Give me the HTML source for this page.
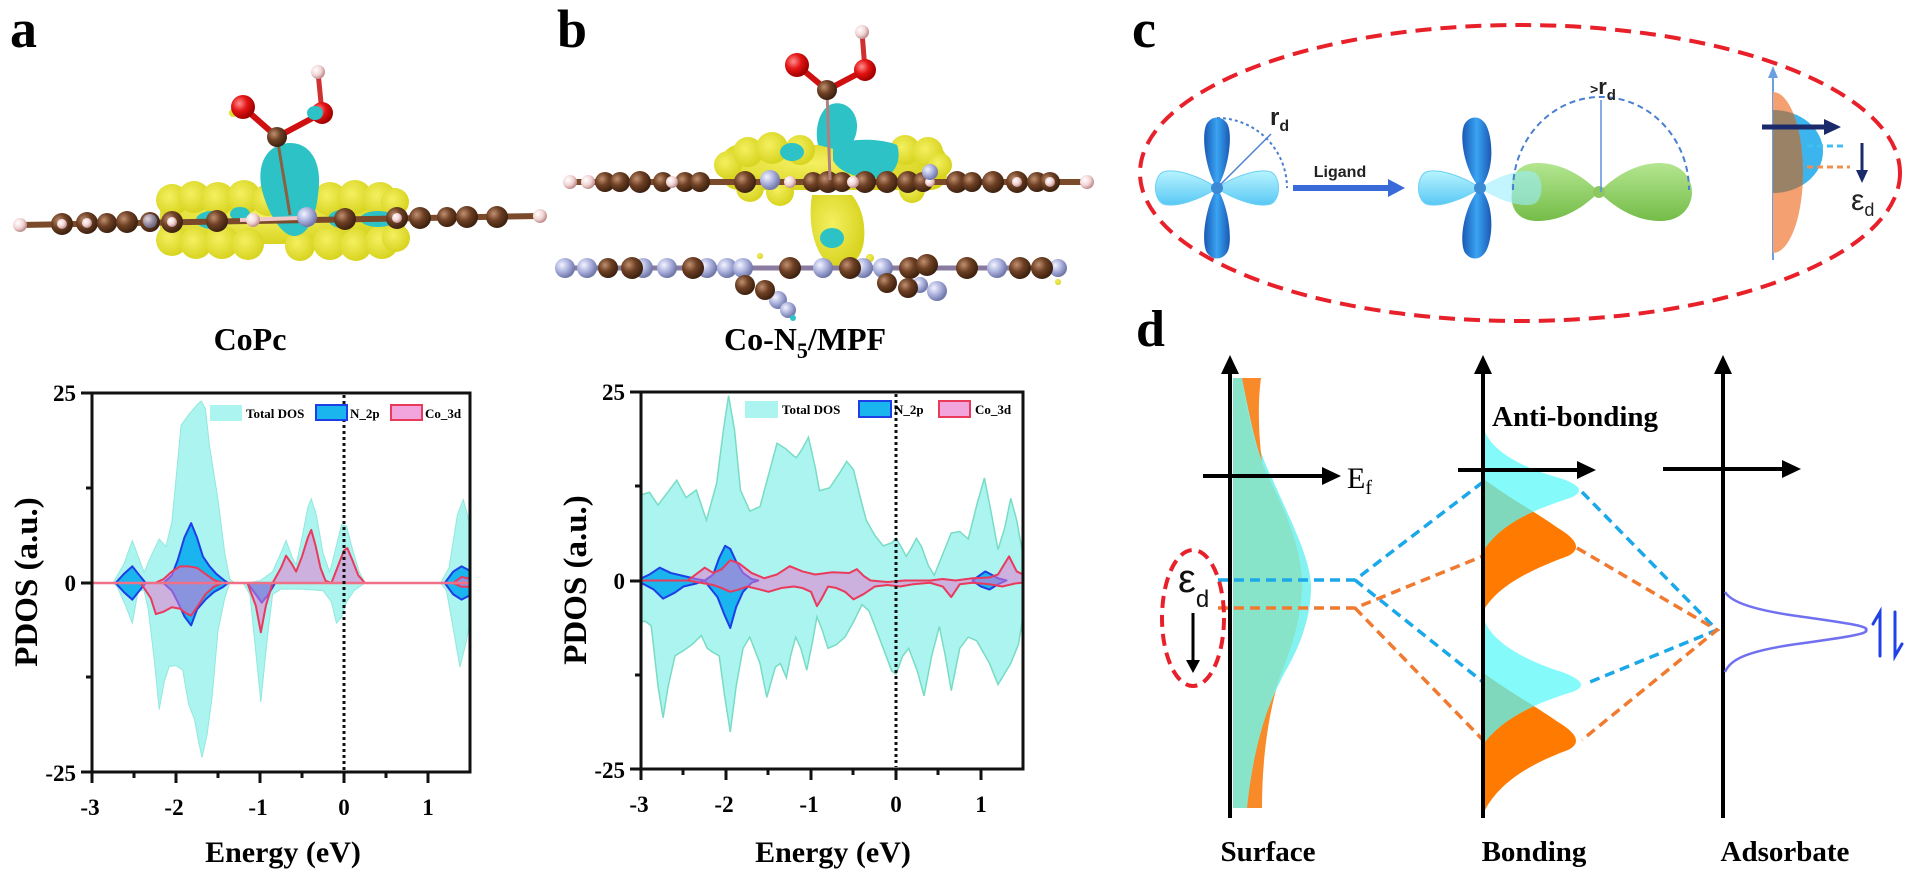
<!DOCTYPE html>
<html><head><meta charset="utf-8"><style>
html,body{margin:0;padding:0;background:#fff;}
svg{display:block;}
.ser{font-family:"Liberation Serif",serif;font-weight:bold;}
.san{font-family:"Liberation Sans",sans-serif;}
</style></head><body>
<svg width="1920" height="877" viewBox="0 0 1920 877" xmlns="http://www.w3.org/2000/svg">
<defs>
<radialGradient id="gC" cx="35%" cy="35%" r="65%"><stop offset="0" stop-color="#c09070"/><stop offset="0.5" stop-color="#6e4024"/><stop offset="1" stop-color="#3e2210"/></radialGradient>
<radialGradient id="gH" cx="35%" cy="35%" r="65%"><stop offset="0" stop-color="#ffffff"/><stop offset="0.6" stop-color="#f2d4d4"/><stop offset="1" stop-color="#c09090"/></radialGradient>
<radialGradient id="gN" cx="35%" cy="35%" r="65%"><stop offset="0" stop-color="#f4f4ff"/><stop offset="0.55" stop-color="#aab0dc"/><stop offset="1" stop-color="#7078a8"/></radialGradient>
<radialGradient id="gO" cx="35%" cy="35%" r="65%"><stop offset="0" stop-color="#ff9090"/><stop offset="0.5" stop-color="#e41414"/><stop offset="1" stop-color="#a00000"/></radialGradient>
<radialGradient id="gY" cx="40%" cy="40%" r="60%"><stop offset="0" stop-color="#f4f060"/><stop offset="1" stop-color="#d8d420"/></radialGradient>
<linearGradient id="gDB" x1="0" y1="0" x2="1" y2="0"><stop offset="0" stop-color="#1a58b4"/><stop offset="0.5" stop-color="#3aa4f2"/><stop offset="1" stop-color="#1a58b4"/></linearGradient>
<linearGradient id="gCy" x1="0" y1="0" x2="0" y2="1"><stop offset="0" stop-color="#b8f4ff"/><stop offset="1" stop-color="#58c8f4"/></linearGradient>
<linearGradient id="gGr" x1="0" y1="0" x2="0" y2="1"><stop offset="0" stop-color="#b4e690"/><stop offset="1" stop-color="#74bc48"/></linearGradient>
<clipPath id="clipA"><rect x="92" y="393" width="378" height="379"/></clipPath>
<clipPath id="clipB"><rect x="641" y="392" width="382" height="377"/></clipPath>
<clipPath id="clipOr"><path d="M1773,92 A30,80.5 0 0 1 1773,253 Z"/></clipPath>
<clipPath id="clipOAB"><path d="M1485,480 C1505,495 1535,512 1558,528 Q1588,546 1568,556 C1530,570 1500,585 1485,608 Z"/></clipPath>
<clipPath id="clipOB"><path d="M1485,674 C1505,689 1535,706 1558,722 Q1588,740 1568,750 C1530,764 1500,782 1485,810 Z"/></clipPath>
</defs>

<!-- Panel labels -->
<text class="ser" x="10" y="47" font-size="54">a</text>
<text class="ser" x="557" y="47" font-size="54">b</text>
<text class="ser" x="1132" y="47" font-size="54">c</text>
<text class="ser" x="1136" y="346" font-size="52">d</text>

<!-- ===== Molecule a ===== -->
<g>
  <g fill="url(#gY)">
    <rect x="160" y="196" width="245" height="48" rx="18"/>
    <circle cx="172" cy="200" r="16"/><circle cx="194" cy="197" r="16"/><circle cx="218" cy="199" r="17"/><circle cx="244" cy="197" r="17"/>
    <circle cx="268" cy="200" r="16"/><circle cx="330" cy="199" r="17"/><circle cx="355" cy="197" r="17"/><circle cx="380" cy="199" r="17"/><circle cx="395" cy="202" r="14"/>
    <circle cx="172" cy="240" r="16"/><circle cx="196" cy="243" r="16"/><circle cx="222" cy="242" r="17"/><circle cx="248" cy="244" r="16"/>
    <circle cx="300" cy="246" r="15"/><circle cx="330" cy="243" r="17"/><circle cx="356" cy="245" r="16"/><circle cx="382" cy="242" r="17"/><circle cx="396" cy="238" r="14"/>
  </g>
  <g fill="#2cc2c6">
    <path d="M262,190 C256,162 268,144 290,143 C312,143 323,165 318,195 C315,222 306,236 294,236 C282,236 268,214 262,190 Z"/>
    <ellipse cx="212" cy="220" rx="16" ry="9"/><ellipse cx="240" cy="214" rx="10" ry="7"/>
    <ellipse cx="342" cy="219" rx="14" ry="9"/><ellipse cx="378" cy="219" rx="18" ry="8"/>
  </g>
  <line x1="20" y1="225" x2="540" y2="216" stroke="#7a4a2a" stroke-width="6"/>
  <line x1="240" y1="220" x2="300" y2="218" stroke="#f0c8c8" stroke-width="4"/>
  <g fill="url(#gC)">
    <circle cx="62" cy="224" r="11"/><circle cx="87" cy="223" r="11"/><circle cx="107" cy="223" r="10"/><circle cx="127" cy="222" r="11"/>
    <circle cx="150" cy="222" r="10"/><circle cx="172" cy="222" r="11"/><circle cx="217" cy="221" r="11"/><circle cx="345" cy="219" r="11"/>
    <circle cx="397" cy="218" r="11"/><circle cx="420" cy="218" r="11"/><circle cx="447" cy="217" r="10"/><circle cx="467" cy="217" r="11"/><circle cx="497" cy="217" r="11"/>
  </g>
  <g fill="url(#gH)">
    <circle cx="20" cy="225" r="7"/><circle cx="62" cy="224" r="5"/><circle cx="87" cy="223" r="5"/><circle cx="172" cy="222" r="5"/>
    <circle cx="253" cy="220" r="7"/><circle cx="397" cy="218" r="5"/><circle cx="540" cy="216" r="7"/>
  </g>
  <circle cx="307" cy="217" r="10" fill="url(#gN)"/>
  <circle cx="150" cy="221" r="7" fill="url(#gN)" opacity="0.7"/>
  <!-- CO2H -->
  <line x1="277" y1="137" x2="290" y2="215" stroke="#8a6040" stroke-width="3"/>
  <line x1="277" y1="137" x2="243" y2="107" stroke="#d01010" stroke-width="6"/>
  <line x1="277" y1="137" x2="322" y2="113" stroke="#d01010" stroke-width="6"/>
  <line x1="322" y1="113" x2="318" y2="72" stroke="#d03030" stroke-width="5"/>
  <circle cx="233" cy="113" r="4" fill="#e0e030"/>
  <circle cx="243" cy="107" r="12" fill="url(#gO)"/>
  <circle cx="322" cy="113" r="11" fill="url(#gO)"/>
  <ellipse cx="315" cy="113" rx="8" ry="7" fill="#2cc2c6"/>
  <circle cx="277" cy="137" r="10" fill="url(#gC)"/>
  <circle cx="318" cy="72" r="7" fill="url(#gH)"/>
</g>
<text class="ser" x="250" y="350" font-size="32" text-anchor="middle">CoPc</text>

<!-- ===== Molecule b ===== -->
<g>
  <g fill="url(#gY)">
    <rect x="722" y="145" width="225" height="45" rx="16"/>
    <circle cx="728" cy="165" r="14"/><circle cx="748" cy="152" r="15"/><circle cx="772" cy="148" r="16"/><circle cx="800" cy="150" r="15"/>
    <circle cx="905" cy="150" r="15"/><circle cx="928" cy="152" r="15"/><circle cx="940" cy="165" r="12"/>
    <circle cx="750" cy="188" r="14"/><circle cx="780" cy="192" r="14"/><circle cx="912" cy="190" r="13"/>
    <path d="M812,195 C808,220 812,250 830,266 C845,272 862,262 864,240 C866,220 860,205 852,195 Z"/>
    <circle cx="870" cy="258" r="4"/><circle cx="1058" cy="282" r="3"/><circle cx="760" cy="256" r="3"/>
  </g>
  <g fill="#2cc2c6">
    <path d="M818,145 C814,128 820,108 832,104 C846,100 858,112 857,128 C856,140 850,150 838,150 Z"/>
    <path d="M833,145 C850,138 880,138 897,145 C902,160 895,176 880,178 C860,180 838,172 833,160 Z"/>
    <ellipse cx="792" cy="152" rx="12" ry="9"/>
    <ellipse cx="832" cy="238" rx="12" ry="10"/>
  </g>
  <!-- upper chain -->
  <line x1="567" y1="182" x2="1087" y2="182" stroke="#7a4a2a" stroke-width="6"/>
  <g fill="url(#gC)">
    <circle cx="605" cy="182" r="10"/><circle cx="620" cy="182" r="10"/><circle cx="640" cy="182" r="11"/><circle cx="663" cy="182" r="10"/>
    <circle cx="685" cy="182" r="10"/><circle cx="700" cy="182" r="10"/><circle cx="745" cy="182" r="11"/><circle cx="813" cy="182" r="10"/>
    <circle cx="828" cy="182" r="11"/><circle cx="842" cy="182" r="10"/><circle cx="865" cy="182" r="11"/><circle cx="887" cy="182" r="11"/>
    <circle cx="908" cy="182" r="11"/><circle cx="923" cy="182" r="10"/><circle cx="957" cy="182" r="11"/><circle cx="972" cy="182" r="10"/>
    <circle cx="993" cy="182" r="11"/><circle cx="1017" cy="182" r="11"/><circle cx="1037" cy="182" r="10"/><circle cx="1050" cy="182" r="10"/>
  </g>
  <g fill="url(#gH)">
    <circle cx="570" cy="182" r="7"/><circle cx="588" cy="182" r="7"/><circle cx="672" cy="182" r="6"/><circle cx="790" cy="182" r="6"/>
    <circle cx="853" cy="182" r="6"/><circle cx="930" cy="182" r="5"/><circle cx="1017" cy="182" r="5"/><circle cx="1050" cy="182" r="5"/><circle cx="1087" cy="182" r="7"/>
  </g>
  <circle cx="770" cy="180" r="10" fill="url(#gN)"/><circle cx="930" cy="172" r="8" fill="url(#gN)"/>
  <!-- lower chain -->
  <line x1="560" y1="268" x2="1060" y2="268" stroke="#8a7aa0" stroke-width="5"/>
  <g fill="url(#gN)">
    <circle cx="565" cy="268" r="10"/><circle cx="587" cy="268" r="10"/><circle cx="643" cy="268" r="10"/><circle cx="667" cy="268" r="10"/>
    <circle cx="707" cy="268" r="10"/><circle cx="727" cy="268" r="10"/><circle cx="743" cy="268" r="10"/><circle cx="823" cy="268" r="10"/>
    <circle cx="863" cy="268" r="10"/><circle cx="883" cy="268" r="10"/><circle cx="997" cy="268" r="10"/><circle cx="1058" cy="268" r="9"/>
    <circle cx="778" cy="300" r="9"/><circle cx="788" cy="310" r="8"/><circle cx="937" cy="291" r="10"/><circle cx="920" cy="285" r="8"/>
  </g>
  <g fill="url(#gC)">
    <circle cx="608" cy="268" r="10"/><circle cx="632" cy="268" r="11"/><circle cx="693" cy="268" r="11"/><circle cx="790" cy="268" r="11"/>
    <circle cx="850" cy="268" r="11"/><circle cx="910" cy="268" r="11"/><circle cx="927" cy="265" r="11"/><circle cx="967" cy="268" r="11"/>
    <circle cx="1020" cy="268" r="11"/><circle cx="1042" cy="268" r="11"/>
    <circle cx="745" cy="285" r="10"/><circle cx="765" cy="290" r="10"/><circle cx="887" cy="283" r="10"/><circle cx="908" cy="288" r="10"/>
  </g>
  <circle cx="793" cy="318" r="3" fill="#2cc2c6"/>
  <!-- CO2H -->
  <line x1="827" y1="90" x2="797" y2="65" stroke="#d01010" stroke-width="6"/>
  <line x1="827" y1="90" x2="865" y2="70" stroke="#d01010" stroke-width="6"/>
  <line x1="865" y1="70" x2="862" y2="32" stroke="#d03030" stroke-width="5"/>
  <line x1="827" y1="90" x2="830" y2="180" stroke="#b08080" stroke-width="3"/>
  <circle cx="797" cy="65" r="12" fill="url(#gO)"/>
  <circle cx="865" cy="70" r="11" fill="url(#gO)"/>
  <circle cx="827" cy="90" r="10" fill="url(#gC)"/>
  <circle cx="862" cy="32" r="7" fill="url(#gH)"/>
</g>
<text class="ser" x="805" y="350" font-size="32" text-anchor="middle">Co-N<tspan font-size="22" dy="8">5</tspan><tspan dy="-8">/MPF</tspan></text>

<!-- ===== Plot a ===== -->
<g clip-path="url(#clipA)">
 <g transform="translate(344,583) scale(84,-7.58)">
  <path vector-effect="non-scaling-stroke" fill="#abf4f0" stroke="#92e8dc" stroke-width="1" d="M-3,0 L-2.75,0 -2.62,2.5 -2.52,5.6 -2.45,3.5 -2.38,1.4 -2.3,3.5 -2.2,5.8 -2.12,4.8 -2.05,8 -1.98,16 -1.94,20.8 -1.85,22.2 -1.75,23.5 -1.7,24 -1.65,23 -1.6,18 -1.5,11 -1.42,4 -1.36,0.5 -1.3,0 -1.15,0 -1,0.3 -0.85,1.5 -0.75,4 -0.69,5.6 -0.62,3.5 -0.57,2.4 -0.5,6 -0.43,10 -0.39,11.1 -0.33,9 -0.25,4 -0.17,1.4 -0.1,4.5 -0.03,7.7 0.03,7.5 0.1,4.5 0.18,1.5 0.25,0 1.15,0 1.25,2 1.35,9 1.42,11 1.47,9 1.52,6 L1.52,-4 1.45,-8 1.38,-11.1 1.3,-6 1.22,-1 1.15,0 0.25,0 0.12,-1 0.03,-2.5 -0.03,-4.5 -0.09,-5.3 -0.15,-2.5 -0.25,-1 -0.5,-0.8 -0.75,-0.8 -0.85,-1.5 -0.92,-8 -0.99,-15.7 -1.06,-8 -1.12,-1.5 -1.2,0 -1.36,0 -1.42,-2 -1.5,-6.3 -1.57,-15 -1.63,-20 -1.69,-23 -1.73,-21 -1.78,-18 -1.85,-16 -1.92,-11.5 -2,-10.9 -2.08,-11 -2.14,-13 -2.2,-16.7 -2.26,-10 -2.33,-3.5 -2.38,-1 -2.45,-1 -2.52,-5.3 -2.6,-3 -2.7,-0.5 -2.75,0 Z"/>
  <g fill="#1ab4ee" stroke="#1e3ee6" stroke-width="2" stroke-linejoin="round">
   <path vector-effect="non-scaling-stroke" d="M-2.72,0 L-2.62,1.2 -2.52,2.2 -2.42,0.8 -2.36,0 -2.42,-0.8 -2.52,-2.2 -2.62,-1.2 Z"/>
   <path vector-effect="non-scaling-stroke" d="M-2.15,0 L-2.05,1 -1.98,3 -1.9,6 -1.82,7.9 -1.75,6 -1.68,3.5 -1.6,2.2 -1.52,1.2 -1.42,0.3 -1.38,0 -1.45,-0.6 -1.55,-1.2 -1.65,-2.2 -1.75,-3.5 -1.82,-5.6 -1.9,-4.4 -1.98,-2.5 -2.05,-1 Z"/>
   <path vector-effect="non-scaling-stroke" d="M-1.15,0 L-1.05,-1.5 -0.98,-2.6 -0.9,-1.5 -0.82,0 Z"/>
   <path vector-effect="non-scaling-stroke" d="M1.2,0 L1.3,1.5 1.4,2.2 1.52,1.5 L1.52,-1.5 1.4,-2.2 1.3,-1.5 Z"/>
  </g>
  <g fill="#e878d0" fill-opacity="0.55" stroke="#ea3a5c" stroke-width="2" stroke-linejoin="round">
   <path vector-effect="non-scaling-stroke" d="M-2.42,0 L-2.3,-2 -2.24,-4.1 -2.15,-3.8 -2.05,-3.2 -1.95,-3.4 -1.88,-4 -1.82,-4.3 -1.75,-3.2 -1.65,-1.5 -1.55,-0.5 -1.45,0 -1.55,0.4 -1.65,1.2 -1.75,2 -1.85,2.2 -1.95,2.2 -2.05,1.5 -2.15,0.5 -2.25,0 Z"/>
   <path vector-effect="non-scaling-stroke" d="M-1.15,0 L-1.05,-3 -0.99,-6.5 -0.93,-3 -0.85,0 Z"/>
   <path vector-effect="non-scaling-stroke" d="M-0.85,0 L-0.75,2 -0.69,3.6 -0.62,2.5 -0.57,1.5 -0.5,3.5 -0.43,6 -0.39,7 -0.34,5 -0.28,2 -0.22,0.3 -0.15,0 -0.08,2 0,4.3 0.04,4.6 0.1,3 0.17,1 0.25,0 Z"/>
   <path vector-effect="non-scaling-stroke" d="M1.3,0 L1.4,0.8 1.52,0.5 L1.52,-0.5 1.4,-0.5 Z"/>
  </g>
 </g>
 <line x1="92" y1="583" x2="470" y2="583" stroke="#f07088" stroke-width="2.5"/>
</g>
<line x1="344" y1="395" x2="344" y2="770" stroke="#111" stroke-width="3" stroke-dasharray="3,3"/>
<!-- legend a -->
<rect x="210" y="405" width="32" height="16" fill="#abf4f0"/>
<text class="ser" x="246" y="418" font-size="13">Total DOS</text>
<rect x="316" y="405" width="31" height="15" fill="#1ab4ee" stroke="#1e3ee6" stroke-width="2"/>
<text class="ser" x="350" y="418" font-size="13">N_2p</text>
<rect x="391" y="405" width="31" height="15" fill="#f2a4dc" stroke="#ea3a5c" stroke-width="2"/>
<text class="ser" x="425" y="418" font-size="13">Co_3d</text>
<!-- axes a -->
<rect x="92" y="393" width="378" height="379" fill="none" stroke="#111" stroke-width="3"/>
<g stroke="#111" stroke-width="3">
 <line x1="92" y1="772" x2="92" y2="783"/><line x1="176" y1="772" x2="176" y2="783"/><line x1="260" y1="772" x2="260" y2="783"/><line x1="344" y1="772" x2="344" y2="783"/><line x1="428" y1="772" x2="428" y2="783"/>
 <line x1="134" y1="772" x2="134" y2="778"/><line x1="218" y1="772" x2="218" y2="778"/><line x1="302" y1="772" x2="302" y2="778"/><line x1="386" y1="772" x2="386" y2="778"/>
 <line x1="81" y1="393" x2="92" y2="393"/><line x1="81" y1="583" x2="92" y2="583"/><line x1="81" y1="772" x2="92" y2="772"/>
 <line x1="86" y1="488" x2="92" y2="488"/><line x1="86" y1="677" x2="92" y2="677"/>
</g>
<g class="ser" font-size="23" text-anchor="middle">
 <text x="90" y="815">-3</text><text x="174" y="815">-2</text><text x="258" y="815">-1</text><text x="344" y="815">0</text><text x="428" y="815">1</text>
</g>
<g class="ser" font-size="23" text-anchor="end">
 <text x="76" y="401">25</text><text x="76" y="591">0</text><text x="76" y="781">-25</text>
</g>
<text class="ser" font-size="33" text-anchor="middle" transform="translate(37,582) rotate(-90)">PDOS (a.u.)</text>
<text class="ser" x="283" y="862" font-size="30" text-anchor="middle">Energy (eV)</text>

<!-- ===== Plot b ===== -->
<g clip-path="url(#clipB)">
 <g transform="translate(896,580.5) scale(85,-7.54)">
  <path vector-effect="non-scaling-stroke" fill="#abf4f0" stroke="#78dcc4" stroke-width="1.5" d="M-3.05,11.2 L-2.9,11.7 -2.8,10 -2.7,11.5 -2.58,13.3 -2.47,11 -2.35,12 -2.23,8 -2.11,12.9 -2.03,20 -1.97,24.5 -1.9,20 -1.83,12 -1.72,9.2 -1.6,9.8 -1.5,14 -1.4,18.2 -1.3,17.5 -1.2,16.5 -1.17,16.3 -1.1,17.5 -1.03,19 -0.95,15 -0.9,11.9 -0.78,12.3 -0.65,14.5 -0.58,15.8 -0.5,14.7 -0.42,11 -0.35,8 -0.25,6 -0.15,4.6 -0.05,5 0,5.6 0.06,4.5 0.12,3.2 0.18,4.3 0.24,5.6 0.3,4.5 0.38,2 0.45,0.7 0.55,3.5 0.65,6.3 0.75,6.5 0.85,5.5 0.95,10 1.04,13.6 1.12,9 1.2,4.1 1.28,7 1.35,10.9 1.42,8 1.49,3.6 1.55,3 L1.55,-1 1.44,-8.5 1.35,-11 1.2,-13.8 1.1,-11 0.95,-8 0.85,-7.5 0.75,-9 0.65,-14.6 0.58,-10 0.51,-6.1 0.42,-10 0.33,-15.3 0.25,-12 0.15,-9 0.08,-10 0,-12.4 -0.05,-12 -0.15,-9 -0.25,-6 -0.32,-4 -0.4,-3.2 -0.5,-5.5 -0.6,-7.5 -0.7,-8.5 -0.8,-9 -0.87,-6.5 -0.93,-4.8 -0.98,-8 -1.05,-11.9 -1.12,-9 -1.18,-7.5 -1.24,-10 -1.29,-12.9 -1.36,-11 -1.42,-11.5 -1.52,-15.5 -1.6,-11 -1.72,-7.5 -1.8,-9 -1.88,-14 -1.95,-20.1 -2.02,-15 -2.08,-10 -2.16,-9.5 -2.22,-9 -2.29,-7.3 -2.4,-8.5 -2.5,-9.3 -2.6,-10 -2.68,-14 -2.74,-18.2 -2.8,-14 -2.88,-6 -2.95,-5.4 -3.05,-5.6 Z"/>
  <g fill="#1ab4ee" stroke="#1e3ee6" stroke-width="2" stroke-linejoin="round">
   <path vector-effect="non-scaling-stroke" d="M-3.05,0 L-2.9,0.8 -2.78,1.7 -2.65,1 -2.5,0.6 -2.35,0.2 -2.25,0 -2.35,-0.4 -2.5,-0.8 -2.6,-1.6 -2.74,-2.4 -2.85,-1.2 Z"/>
   <path vector-effect="non-scaling-stroke" d="M-2.25,0 L-2.15,0.8 -2.08,3 -2.01,4.6 -1.95,4.2 -1.88,2.5 -1.8,1 -1.7,0.2 -1.62,0 -1.7,-0.3 -1.8,-1.5 -1.88,-3.5 -1.95,-6.3 -2.02,-4.5 -2.1,-2.2 -2.2,-0.8 Z"/>
   <path vector-effect="non-scaling-stroke" d="M0.9,0 L1,0.8 1.05,1.2 1.12,0.8 1.2,0.3 1.3,0 1.2,-0.5 1.1,-1.2 1,-0.8 Z"/>
  </g>
  <path vector-effect="non-scaling-stroke" fill="#e878d0" fill-opacity="0.55" stroke="#ea3a5c" stroke-width="2" stroke-linejoin="round" d="M-3.05,0 L-2.45,0 -2.25,1.7 -2.15,1 -2.05,1.5 -1.95,2.7 -1.85,2.3 -1.7,1 -1.55,0.3 -1.4,0.8 -1.25,1.9 -1.1,1.2 -0.95,0.8 -0.75,1.1 -0.55,1 -0.46,1.5 -0.38,0.6 -0.3,0 -0.1,-0.2 0.1,0 0.4,0 0.55,0.2 0.7,0 0.9,0.3 1.1,0.4 1.2,0.8 1.33,3.2 1.42,1.2 1.55,0.5 L1.55,-0.2 1.4,-0.4 1.25,-0.8 1.1,-0.5 0.9,-0.3 0.75,-0.5 0.65,-2.2 0.55,-0.8 0.4,-0.3 0.2,-0.5 0.05,-0.8 -0.1,-0.6 -0.25,-0.8 -0.38,-1.8 -0.5,-2.5 -0.6,-1.5 -0.7,-1 -0.8,-0.8 -0.88,-2.5 -0.93,-3.4 -1,-1.5 -1.1,-1 -1.2,-0.8 -1.35,-1 -1.5,-1.5 -1.6,-1.2 -1.75,-0.8 -1.85,-1.2 -1.95,-1.5 -2.05,-1 -2.15,-0.6 -2.3,-0.3 -2.45,0 Z"/>
 </g>
</g>
<line x1="896" y1="394" x2="896" y2="767" stroke="#111" stroke-width="3" stroke-dasharray="3,3"/>
<rect x="745" y="401" width="33" height="17" fill="#abf4f0"/>
<text class="ser" x="782" y="414" font-size="13">Total DOS</text>
<rect x="859" y="401" width="32" height="16" fill="#1ab4ee" stroke="#1e3ee6" stroke-width="2"/>
<text class="ser" x="894" y="414" font-size="13">N_2p</text>
<rect x="939" y="401" width="31" height="16" fill="#f2a4dc" stroke="#ea3a5c" stroke-width="2"/>
<text class="ser" x="975" y="414" font-size="13">Co_3d</text>
<rect x="641" y="392" width="382" height="377" fill="none" stroke="#111" stroke-width="3"/>
<g stroke="#111" stroke-width="3">
 <line x1="641" y1="769" x2="641" y2="780"/><line x1="726" y1="769" x2="726" y2="780"/><line x1="811" y1="769" x2="811" y2="780"/><line x1="896" y1="769" x2="896" y2="780"/><line x1="981" y1="769" x2="981" y2="780"/>
 <line x1="683" y1="769" x2="683" y2="775"/><line x1="768" y1="769" x2="768" y2="775"/><line x1="853" y1="769" x2="853" y2="775"/><line x1="938" y1="769" x2="938" y2="775"/>
 <line x1="630" y1="392" x2="641" y2="392"/><line x1="630" y1="581" x2="641" y2="581"/><line x1="630" y1="769" x2="641" y2="769"/>
 <line x1="635" y1="486" x2="641" y2="486"/><line x1="635" y1="675" x2="641" y2="675"/>
</g>
<g class="ser" font-size="23" text-anchor="middle">
 <text x="639" y="812">-3</text><text x="724" y="812">-2</text><text x="809" y="812">-1</text><text x="896" y="812">0</text><text x="981" y="812">1</text>
</g>
<g class="ser" font-size="23" text-anchor="end">
 <text x="625" y="400">25</text><text x="625" y="589">0</text><text x="625" y="778">-25</text>
</g>
<text class="ser" font-size="33" text-anchor="middle" transform="translate(586,580) rotate(-90)">PDOS (a.u.)</text>
<text class="ser" x="833" y="862" font-size="30" text-anchor="middle">Energy (eV)</text>

<!-- ===== Panel c ===== -->
<ellipse cx="1520" cy="173" rx="380" ry="148" fill="none" stroke="#e8202a" stroke-width="4" stroke-dasharray="16,9"/>
<!-- orbital 1 -->
<g>
 <path d="M1217,188 C1200,176 1175,168 1163,172 C1153,177 1153,199 1163,204 C1175,208 1200,200 1217,188 Z" fill="url(#gCy)" stroke="#6cd0f4" stroke-width="1"/>
 <path d="M1217,188 C1234,176 1259,168 1271,172 C1281,177 1281,199 1271,204 C1259,208 1234,200 1217,188 Z" fill="url(#gCy)" stroke="#6cd0f4" stroke-width="1"/>
 <path d="M1217,188 C1205,170 1200,130 1208,122 C1213,116 1221,116 1226,122 C1234,130 1229,170 1217,188 Z" fill="url(#gDB)"/>
 <path d="M1217,188 C1205,206 1200,246 1208,254 C1213,260 1221,260 1226,254 C1234,246 1229,206 1217,188 Z" fill="url(#gDB)"/>
 <circle cx="1217" cy="188" r="6" fill="#3a8ad4"/>
 <path d="M1217,118 A70,70 0 0 1 1287,188" fill="none" stroke="#4a80d0" stroke-width="2" stroke-dasharray="3,3"/>
 <line x1="1217" y1="188" x2="1271" y2="134" stroke="#4a80d0" stroke-width="1.5"/>
 <text class="san" x="1270" y="125" font-size="24" font-weight="bold" fill="#222">r<tspan font-size="16" dy="6">d</tspan></text>
</g>
<line x1="1293" y1="188" x2="1390" y2="188" stroke="#3a6ad8" stroke-width="6"/>
<polygon points="1388,179 1405,188 1388,197" fill="#3a6ad8"/>
<text class="san" x="1340" y="177" font-size="16" font-weight="bold" text-anchor="middle" fill="#222">Ligand</text>
<!-- orbital 2 -->
<g>
 <path d="M1480,188 C1463,176 1438,168 1426,172 C1416,177 1416,199 1426,204 C1438,208 1463,200 1480,188 Z" fill="url(#gCy)" stroke="#6cd0f4" stroke-width="1"/>
 <path d="M1480,188 C1463,170 1458,130 1466,122 C1471,116 1479,116 1484,122 C1492,130 1497,170 1480,188 Z" fill="url(#gDB)"/>
 <path d="M1480,188 C1463,206 1458,246 1466,254 C1471,260 1479,260 1484,254 C1492,246 1497,206 1480,188 Z" fill="url(#gDB)"/>
 <path d="M1599,192 C1585,178 1565,164 1540,163 C1515,162 1510,180 1512,192 C1510,205 1515,222 1540,221 C1565,220 1585,206 1599,192 Z" fill="url(#gGr)"/>
 <path d="M1599,192 C1613,178 1633,164 1658,163 C1683,162 1692,180 1692,192 C1692,205 1683,222 1658,221 C1633,220 1613,206 1599,192 Z" fill="url(#gGr)"/>
 <circle cx="1599" cy="192" r="6" fill="#8cc860"/>
 <path d="M1480,188 C1497,176 1522,168 1534,172 C1544,177 1544,199 1534,204 C1522,208 1497,200 1480,188 Z" fill="#9aeefc" opacity="0.6"/>
 <circle cx="1480" cy="188" r="6" fill="#3a8ad4"/>
 <path d="M1513,190 A87,92 0 0 1 1689,190" fill="none" stroke="#4a80d0" stroke-width="2" stroke-dasharray="6,4"/>
 <line x1="1601" y1="100" x2="1601" y2="192" stroke="#5a90e0" stroke-width="1.5"/>
 <text class="san" x="1590" y="94" font-size="22" font-weight="bold" fill="#222"><tspan font-size="14">&gt;</tspan>r<tspan font-size="15" dy="6">d</tspan></text>
</g>
<!-- d-band sketch -->
<line x1="1773" y1="260" x2="1773" y2="76" stroke="#6aa0e0" stroke-width="2"/>
<polygon points="1768,78 1773,66 1778,78" fill="#6aa0e0"/>
<path d="M1773,110 A50,41.5 0 0 1 1773,193 Z" fill="#3cb4ee"/>
<path d="M1773,92 A30,80.5 0 0 1 1773,253 Z" fill="#f4a070"/>
<path d="M1773,110 A50,41.5 0 0 1 1773,193 Z" fill="#9a8266" clip-path="url(#clipOr)"/>
<line x1="1762" y1="127" x2="1826" y2="127" stroke="#1a2a6a" stroke-width="5"/>
<polygon points="1824,119 1841,127 1824,135" fill="#1a2a6a"/>
<line x1="1807" y1="146" x2="1847" y2="146" stroke="#40c0f0" stroke-width="3" stroke-dasharray="6,4"/>
<line x1="1807" y1="167" x2="1850" y2="167" stroke="#f09050" stroke-width="3" stroke-dasharray="6,4"/>
<line x1="1862" y1="143" x2="1862" y2="172" stroke="#1a2a6a" stroke-width="3"/>
<polygon points="1856,170 1868,170 1862,183" fill="#1a2a6a"/>
<text class="san" x="1851" y="210" font-size="30" fill="#222">ε<tspan font-size="18" dy="6">d</tspan></text>

<!-- ===== Panel d ===== -->
<!-- Surface DOS -->
<path d="M1233,378 L1242,378 C1250,420 1262,460 1272,478 C1290,520 1312,560 1311,590 C1310,625 1295,655 1285,672 C1270,700 1255,740 1250,808 L1233,808 Z" fill="#84f2f0"/>
<path d="M1233,378 L1242,378 C1248,420 1258,455 1265,470 C1285,510 1303,550 1302,588 C1300,630 1288,655 1275,690 C1264,720 1252,760 1247,808 L1233,808 Z" fill="#88e4c8"/>
<path d="M1242,378 L1261,378 C1258,400 1258,430 1262,462 C1256,445 1250,420 1242,378 Z" fill="#f88a2a"/>
<path d="M1276,690 C1268,720 1262,760 1262,808 L1247,808 C1252,760 1262,720 1276,690 Z" fill="#f88a2a"/>
<!-- Bonding DOS -->
<path d="M1485,480 C1505,495 1535,512 1558,528 Q1588,546 1568,556 C1530,570 1500,585 1485,608 Z" fill="#ff7a00"/>
<path d="M1485,432 C1495,455 1530,470 1560,478 Q1592,489 1570,498 C1540,508 1505,520 1485,548 Z" fill="#84fafa"/>
<path d="M1485,432 C1495,455 1530,470 1560,478 Q1592,489 1570,498 C1540,508 1505,520 1485,548 Z" fill="#80d8bc" clip-path="url(#clipOAB)"/>
<path d="M1485,674 C1505,689 1535,706 1558,722 Q1588,740 1568,750 C1530,764 1500,782 1485,810 Z" fill="#ff7a00"/>
<path d="M1485,622 C1495,645 1530,662 1562,672 Q1594,684 1572,692 C1540,702 1505,716 1485,742 Z" fill="#84fafa"/>
<path d="M1485,622 C1495,645 1530,662 1562,672 Q1594,684 1572,692 C1540,702 1505,716 1485,742 Z" fill="#80d8bc" clip-path="url(#clipOB)"/>
<!-- dashed connectors -->
<g fill="none" stroke-width="3.5" stroke-dasharray="10,6">
 <polyline points="1218,580 1355,580 1483,482" stroke="#1aa8e8"/>
 <polyline points="1355,580 1483,682" stroke="#1aa8e8"/>
 <polyline points="1218,608 1355,608 1483,556" stroke="#f07a30"/>
 <polyline points="1355,608 1483,740" stroke="#f07a30"/>
 <polyline points="1582,492 1717,630 1585,684" stroke="#1aa8e8"/>
 <polyline points="1577,548 1717,630 1582,740" stroke="#f07a30"/>
</g>
<!-- axes -->
<g stroke="#000" stroke-width="4">
 <line x1="1230" y1="818" x2="1230" y2="370"/>
 <line x1="1483" y1="818" x2="1483" y2="370"/>
 <line x1="1723" y1="818" x2="1723" y2="370"/>
 <line x1="1203" y1="476" x2="1325" y2="476"/>
 <line x1="1458" y1="470" x2="1580" y2="470"/>
 <line x1="1663" y1="469" x2="1785" y2="469"/>
</g>
<g fill="#000">
 <polygon points="1221,374 1230,355 1239,374"/>
 <polygon points="1474,374 1483,355 1492,374"/>
 <polygon points="1714,374 1723,355 1732,374"/>
 <polygon points="1322,467 1341,476 1322,485"/>
 <polygon points="1577,461 1596,470 1577,479"/>
 <polygon points="1782,460 1801,469 1782,478"/>
</g>
<text x="1347" y="488" font-family="Liberation Serif, serif" font-size="30">E<tspan font-size="20" dy="6">f</tspan></text>
<!-- adsorbate -->
<path d="M1725,592 C1730,600 1745,608 1790,615 C1840,622 1870,626 1866,630 C1870,634 1840,638 1790,645 C1745,652 1730,660 1725,672" fill="none" stroke="#7070f0" stroke-width="2.5"/>
<g stroke="#2040e8" stroke-width="3" fill="none" stroke-linecap="round">
 <polyline points="1880,656 1880,612 1873,624"/>
 <polyline points="1895,612 1895,656 1902,644"/>
</g>
<!-- eps_d -->
<ellipse cx="1193" cy="618" rx="31" ry="68" fill="none" stroke="#e8202a" stroke-width="4" stroke-dasharray="12,7"/>
<text class="san" x="1178" y="592" font-size="40" fill="#111">ε<tspan font-size="24" dy="15">d</tspan></text>
<line x1="1193" y1="613" x2="1193" y2="662" stroke="#000" stroke-width="3"/>
<polygon points="1186,660 1200,660 1193,673" fill="#000"/>
<text class="ser" x="1492" y="426" font-size="29">Anti-bonding</text>
<text class="ser" x="1268" y="861" font-size="29" text-anchor="middle">Surface</text>
<text class="ser" x="1534" y="861" font-size="29" text-anchor="middle">Bonding</text>
<text class="ser" x="1785" y="861" font-size="29" text-anchor="middle">Adsorbate</text>
</svg>
</body></html>
